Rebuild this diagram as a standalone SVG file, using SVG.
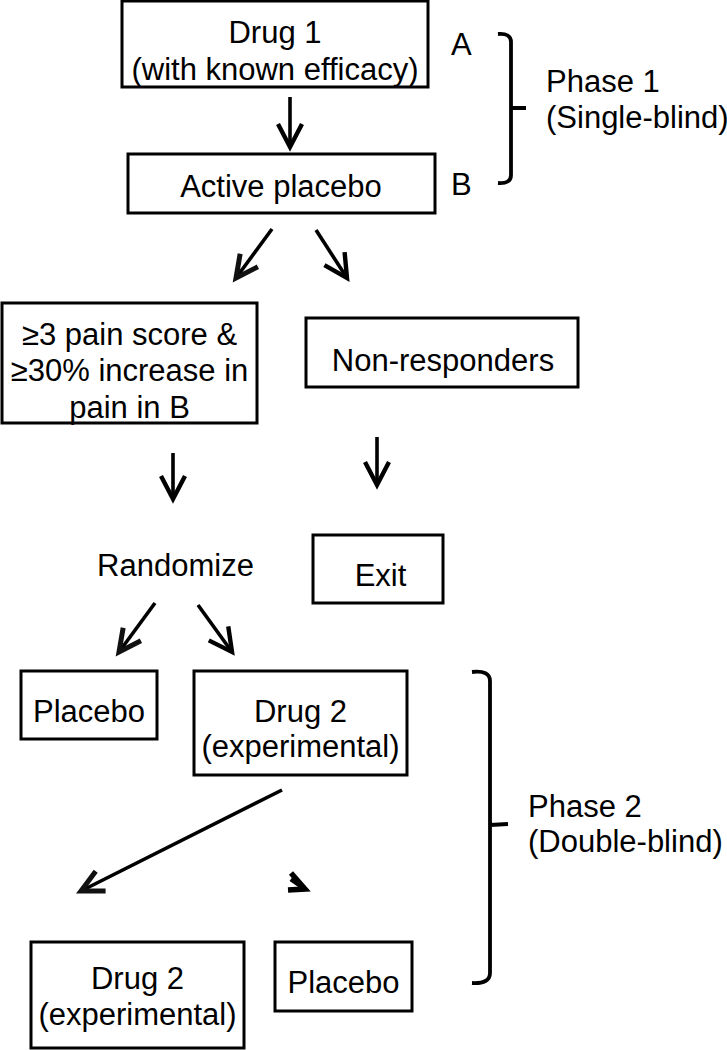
<svg xmlns="http://www.w3.org/2000/svg" width="727" height="1050" viewBox="0 0 727 1050">
<style>
.box{fill:#fff;stroke:#000;stroke-width:3}
.t{font-family:"Liberation Sans",Arial,sans-serif;font-size:31px;fill:#000;text-anchor:middle}
.tl{font-family:"Liberation Sans",Arial,sans-serif;font-size:31px;fill:#000}
.c{fill:none;stroke:#000;stroke-width:3.6}
.br{fill:none;stroke:#000;stroke-width:3.8;stroke-linecap:butt}
</style>
<defs>
<marker id="ah" markerUnits="userSpaceOnUse" markerWidth="40" markerHeight="40" viewBox="-30 -20 40 40" refX="0" refY="0" orient="auto">
<path d="M-23,-12 L0,0 L-23,12" fill="none" stroke="#000" stroke-width="4.4" stroke-linejoin="miter"/>
</marker>
<marker id="ahg" markerUnits="userSpaceOnUse" markerWidth="40" markerHeight="40" viewBox="-30 -20 40 40" refX="0" refY="0" orient="auto">
<path d="M-22,-11 L0,0 L-22,11" fill="none" stroke="#111" stroke-width="5" stroke-linejoin="miter"/>
</marker>
</defs>

<g id="drug1">
<rect class="box" x="122" y="1" width="306" height="86"/>
<text class="t" x="275" y="43">Drug 1</text>
<text class="t" x="275" y="80">(with known efficacy)</text>
</g>
<g id="labelA"><text class="tl" x="451" y="55">A</text></g>
<g id="active-placebo">
<rect class="box" x="128" y="154" width="307" height="59"/>
<text class="t" x="281" y="197">Active placebo</text>
</g>
<g id="labelB"><text class="tl" x="451" y="195">B</text></g>
<g id="phase1">
<path class="br" d="M498,34 Q511,33 511,42 L511,175 Q511,184 498,183 M511,108 L526,108"/>
<text class="tl" x="546" y="92">Phase 1</text>
<text class="tl" x="546" y="128">(Single-blind)</text>
</g>
<g id="criteria">
<rect class="box" x="2" y="303" width="255" height="120"/>
<text class="t" x="129.5" y="345">≥3 pain score &amp;</text>
<text class="t" x="129.5" y="381">≥30% increase in</text>
<text class="t" x="129.5" y="418">pain in B</text>
</g>
<g id="non-responders">
<rect class="box" x="306" y="318" width="272" height="69"/>
<text class="t" x="443" y="371">Non-responders</text>
</g>
<g id="randomize"><text class="t" x="175.5" y="576">Randomize</text></g>
<g id="exit">
<rect class="box" x="313" y="535" width="130" height="68"/>
<text class="t" x="380.5" y="586">Exit</text>
</g>
<g id="placebo1">
<rect class="box" x="21" y="671" width="136" height="68"/>
<text class="t" x="89" y="722">Placebo</text>
</g>
<g id="drug2a">
<rect class="box" x="194" y="671" width="213" height="104"/>
<text class="t" x="300.5" y="722">Drug 2</text>
<text class="t" x="300.5" y="757">(experimental)</text>
</g>
<g id="phase2">
<path class="br" d="M472,672 Q490,670 490,681 L490,973 Q490,984 472,983 M490,825 L508,824"/>
<text class="tl" x="528" y="817">Phase 2</text>
<text class="tl" x="528" y="852">(Double-blind)</text>
</g>
<g id="drug2b">
<rect class="box" x="31" y="942" width="213" height="106"/>
<text class="t" x="137.5" y="989">Drug 2</text>
<text class="t" x="137.5" y="1025">(experimental)</text>
</g>
<g id="placebo2">
<rect class="box" x="275" y="942" width="137" height="69"/>
<text class="t" x="343.5" y="993">Placebo</text>
</g>

<g id="connectors">
<line class="c" x1="290" y1="97" x2="290" y2="147" marker-end="url(#ah)"/>
<line class="c" stroke="#111" x1="272" y1="229" x2="236" y2="278" marker-end="url(#ahg)"/>
<line class="c" x1="316" y1="230" x2="347" y2="278" marker-end="url(#ah)"/>
<line class="c" x1="173" y1="453" x2="173" y2="499" marker-end="url(#ah)"/>
<line class="c" x1="377" y1="437" x2="377" y2="485" marker-end="url(#ah)"/>
<line class="c" stroke="#111" x1="155" y1="603" x2="119" y2="652" marker-end="url(#ahg)"/>
<line class="c" x1="198" y1="605" x2="232" y2="652" marker-end="url(#ah)"/>
<line class="c" stroke="#444" stroke-width="3.5" x1="282" y1="790" x2="81" y2="891" marker-end="url(#ahg)"/>
<path d="M291,873 L305,889 L288,890" fill="none" stroke="#000" stroke-width="5.5" stroke-linejoin="miter"/>
<path d="M291,879 L304,888" fill="none" stroke="#000" stroke-width="5"/>
</g>
</svg>
